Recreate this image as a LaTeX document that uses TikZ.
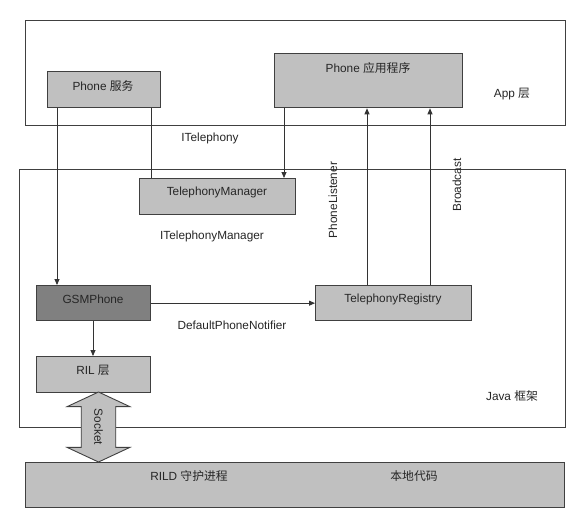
\documentclass[tikz,border=0pt]{standalone}
\usepackage{fontspec}
\setmainfont{Liberation Sans}
\newfontfamily\cjk{Noto Sans CJK SC}
\usetikzlibrary{arrows.meta,shapes.arrows}
\definecolor{boxgray}{HTML}{C0C0C0}
\definecolor{darkbox}{HTML}{808080}
\definecolor{edgeline}{HTML}{404040}
\tikzset{
  frame/.style={draw=edgeline, line width=0.9pt, anchor=north west, inner sep=0},
  box/.style={draw=edgeline, line width=1.3pt, fill=boxgray, anchor=north west, inner sep=0},
  txt/.style={inner sep=0, font=\fontsize{11.8}{14}\selectfont, text=black!85},
  conn/.style={draw=black!80, line width=0.8pt},
  arr/.style={conn, -{Triangle[length=6pt,width=5pt]}},
}
\begin{document}
\begin{tikzpicture}[x=1pt,y=-1pt]
\useasboundingbox (0,0) rectangle (588,523);
\fill[white] (0,0) rectangle (588,523);
% frames
\node[frame, minimum width=540, minimum height=105] (appf) at (25,20) {};
\node[frame, minimum width=546, minimum height=258] (javaf) at (19,169) {};
\node[box, line width=1.1pt, minimum width=539, minimum height=45] (native) at (25,462) {};
% boxes
\node[box, minimum width=113, minimum height=36] (svc) at (47,71) {};
\node[box, minimum width=188, minimum height=54] (app) at (274,53) {};
\node[box, minimum width=156, minimum height=36] (tm) at (139,178) {};
\node[box, fill=darkbox, minimum width=114, minimum height=35] (gsm) at (36,285) {};
\node[box, minimum width=156, minimum height=35] (reg) at (315,285) {};
\node[box, minimum width=114, minimum height=36] (ril) at (36,356) {};
% box texts
\node[txt] (svct) at (103,86) {Phone {\cjk 服务}};
\node[txt] (appt) at (368,68) {Phone {\cjk 应用程序}};
\node[txt] (tmt) at (217,192) {TelephonyManager};
\node[txt] (gsmt) at (93,299) {GSMPhone};
\node[txt] (regt) at (393,299) {TelephonyRegistry};
\node[txt] (rilt) at (93,370) {RIL {\cjk 层}};
\node[txt] (nat1) at (189,476) {RILD {\cjk 守护进程}};
\node[txt] (nat2) at (414,476) {\cjk 本地代码};
% free labels
\node[txt] (applayer) at (512,94) {App {\cjk 层}};
\node[txt] (javalayer) at (512,396) {Java {\cjk 框架}};
\node[txt] (itel) at (210,138) {ITelephony};
\node[txt] (itelm) at (212,236) {ITelephonyManager};
\node[txt] (dpn) at (232,325) {DefaultPhoneNotifier};
\node[txt, rotate=90] (plis) at (333,200) {PhoneListener};
\node[txt, rotate=90] (bcast) at (457,185) {Broadcast};
% connectors
\draw[arr] ([xshift=10]svc.south west) -- ([xshift=10]svc.south west |- gsm.north);
\draw[conn] ([xshift=-10]svc.south east) -- ([xshift=-10]svc.south east |- tm.north);
\draw[arr] ([xshift=10]app.south west) -- ([xshift=10]app.south west |- tm.north);
\draw[arr] ([xshift=52]reg.north west) -- ([xshift=52]reg.north west |- app.south);
\draw[arr] ([xshift=115]reg.north west) -- ([xshift=115]reg.north west |- app.south);
\draw[arr] (gsm.east) -- (reg.west);
\draw[arr] ([xshift=57]gsm.south west) -- ([xshift=57]gsm.south west |- ril.north);
% socket double arrow
\node[double arrow, draw=edgeline, line width=0.9pt, fill=boxgray, rotate=-90,
      minimum height=70, minimum width=61, double arrow head extend=14,
      double arrow tip angle=130, inner xsep=0, inner ysep=12.5,
      font=\fontsize{11.8}{14}\selectfont, text=black!85] (sock) at (98.5,427) {Socket};
\end{tikzpicture}
\end{document}
